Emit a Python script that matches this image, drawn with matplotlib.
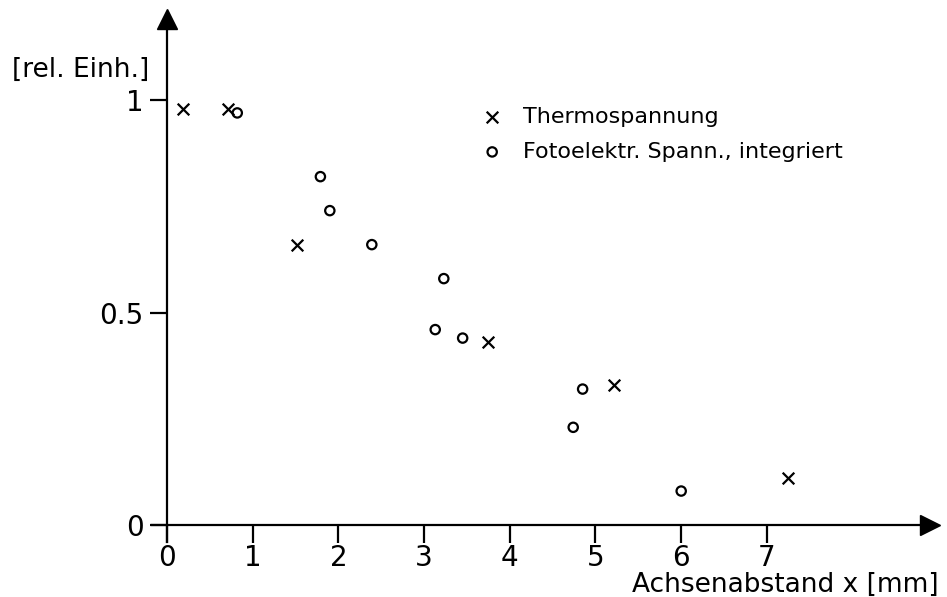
import matplotlib
matplotlib.use("Agg")
import matplotlib.pyplot as plt

# measured signals along the axis distance
thermo_x = [0.19, 0.71, 1.52, 3.75, 5.22, 7.25]
thermo_y = [0.98, 0.98, 0.66, 0.43, 0.33, 0.11]

foto_x = [0.82, 1.79, 1.90, 2.39, 3.23, 3.13, 3.45, 4.74, 4.85, 6.00]
foto_y = [0.97, 0.82, 0.74, 0.66, 0.58, 0.46, 0.44, 0.23, 0.32, 0.08]

x_ticks = [0, 1, 2, 3, 4, 5, 6, 7]
y_ticks = [0, 0.5, 1]
y_tick_labels = ["0", "0.5", "1"]

plt.rcParams['font.family'] = ['DejaVu Sans']

fig = plt.figure(figsize=(9.47, 5.97), dpi=100)
W, H = 947, 597
ax = fig.add_axes([140 / W, (H - 545) / H, 800 / W, 540 / H])
ax.set_xlim(-0.315, 9.02)
ax.set_ylim(-0.047, 1.224)

for side in ("top", "right"):
    ax.spines[side].set_visible(False)
ax.spines["left"].set_position(("data", 0))
ax.spines["bottom"].set_position(("data", 0))
ax.spines["left"].set_bounds(-0.04, 1.19)
ax.spines["bottom"].set_bounds(-0.17, 8.9)
for side in ("left", "bottom"):
    ax.spines[side].set_linewidth(1.6)

# arrow heads at the ends of both axes
ax.plot(0, 1.19, marker="^", markersize=14, color="black", clip_on=False)
ax.plot(8.9, 0, marker=">", markersize=14, color="black", clip_on=False)

ax.set_xticks(x_ticks)
ax.set_xticklabels([str(t) for t in x_ticks])
ax.set_yticks(y_ticks)
ax.set_yticklabels(y_tick_labels)
ax.tick_params(axis="x", direction="out", length=13, width=1.6, pad=1, labelsize=20)
ax.tick_params(axis="y", direction="out", length=12, width=1.6, pad=5, labelsize=20)

ax.scatter(thermo_x, thermo_y, marker="x", s=70, color="black", linewidths=1.6,
           label="Thermospannung", zorder=3)
ax.scatter(foto_x, foto_y, marker="o", s=45, facecolors="none", edgecolors="black",
           linewidths=1.6, label="Fotoelektr. Spann., integriert", zorder=3)

ax.text(-0.21, 1.07, "[rel. Einh.]", ha="right", va="center", fontsize=19)
ax.text(9.0, -0.14, "Achsenabstand x [mm]", ha="right", va="center", fontsize=19)

ax.legend(frameon=False, loc="upper left", bbox_to_anchor=(0.418, 0.827),
          fontsize=16, handlelength=0.8, handletextpad=1.0, labelspacing=0.65,
          borderaxespad=0)

fig.savefig("out.png", dpi=100)
